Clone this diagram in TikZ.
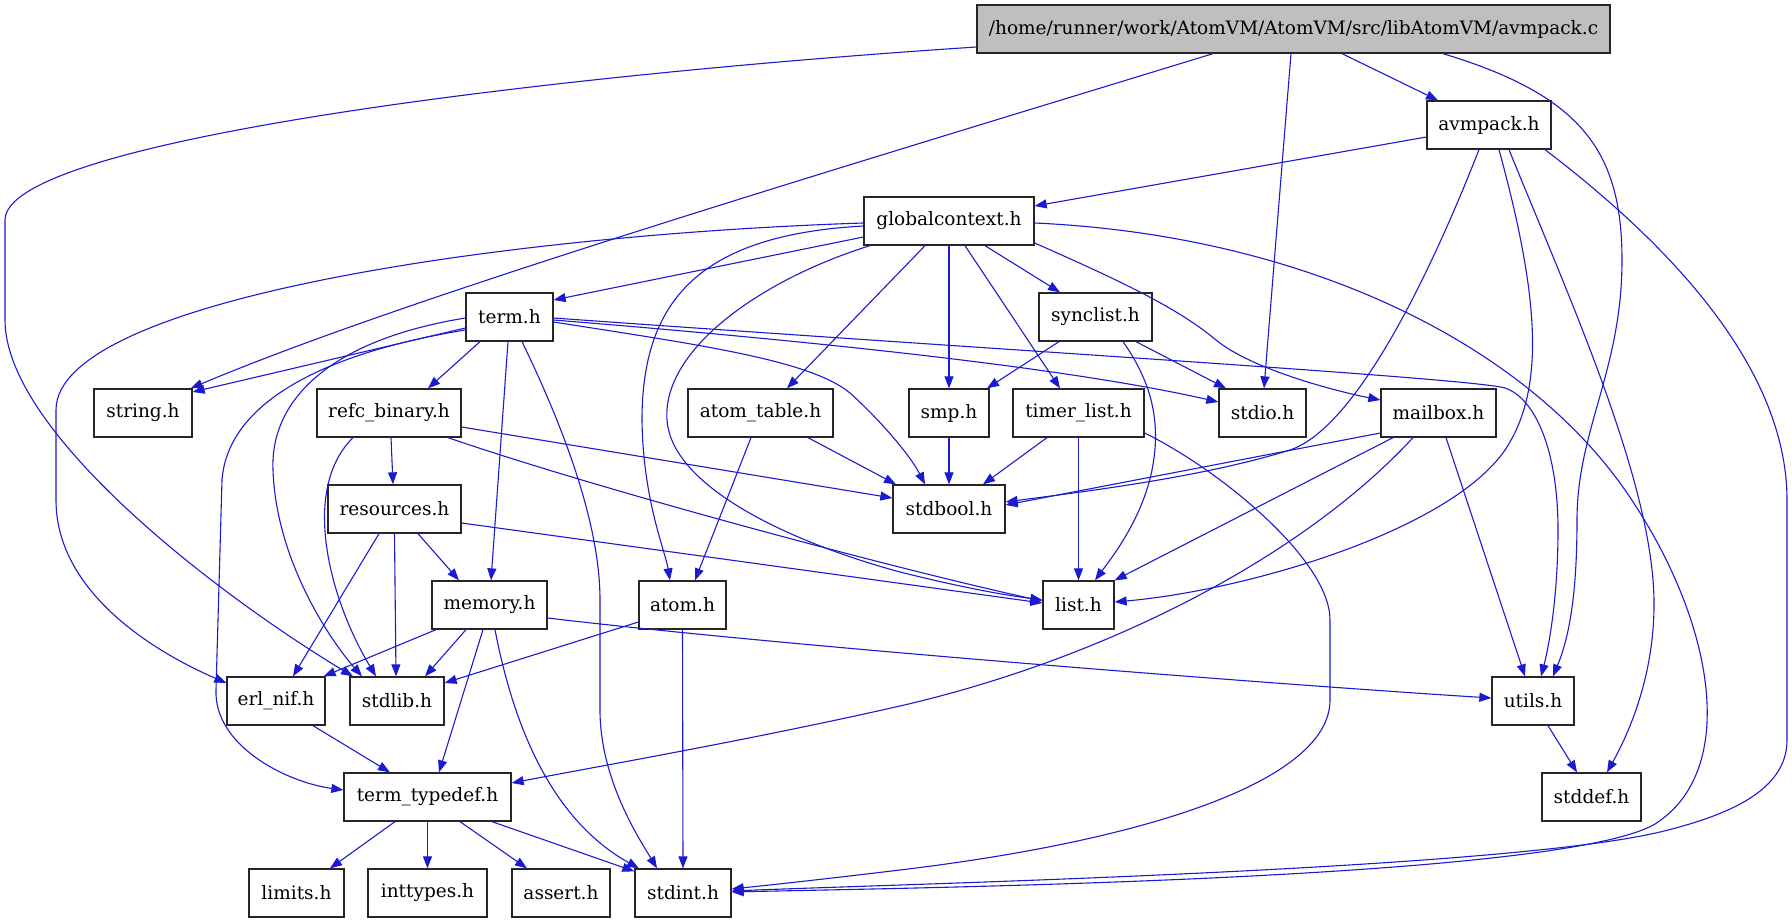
\documentclass[tikz,border=0pt]{standalone}
\usepackage{fontspec}
\setmainfont{DejaVu Serif}
\usetikzlibrary{arrows.meta}
\definecolor{edgeblue}{RGB}{26,26,208}
\definecolor{rootfill}{RGB}{191,191,191}
\tikzset{
  hdr/.style={draw=black!85, line width=1.3pt, fill=white, minimum height=48pt, inner sep=0pt, font=\fontsize{18.5}{22}\selectfont},
  root/.style={hdr, fill=rootfill},
  dep/.style={draw=edgeblue, line width=1.1pt, -{Triangle[length=12pt,width=9pt]}},
}
\begin{document}
\begin{tikzpicture}[x=1pt,y=-1pt]
\useasboundingbox (0,0) rectangle (1792,923);
% nodes
\node[root, minimum width=633pt] (avmpackc) at (1293.5,29) {/home/runner/work/AtomVM/AtomVM/src/libAtomVM/avmpack.c};
\node[hdr, minimum width=124pt] (avmpackh) at (1489,125) {avmpack.h};
\node[hdr, minimum width=170pt] (gc) at (949,221) {globalcontext.h};
\node[hdr, minimum width=87pt] (term) at (509.5,317) {term.h};
\node[hdr, minimum width=113pt] (synclist) at (1095.5,317) {synclist.h};
\node[hdr, minimum width=98pt] (string) at (143,413) {string.h};
\node[hdr, minimum width=144pt] (refc) at (389,413) {refc\_binary.h};
\node[hdr, minimum width=145pt] (atomtable) at (760.5,413) {atom\_table.h};
\node[hdr, minimum width=80pt] (smp) at (949,413) {smp.h};
\node[hdr, minimum width=131pt] (timerlist) at (1078.5,413) {timer\_list.h};
\node[hdr, minimum width=87pt] (stdio) at (1262.5,413) {stdio.h};
\node[hdr, minimum width=115pt] (mailbox) at (1438.5,413) {mailbox.h};
\node[hdr, minimum width=133pt] (resources) at (394.5,509) {resources.h};
\node[hdr, minimum width=112pt] (stdbool) at (949,509) {stdbool.h};
\node[hdr, minimum width=115pt] (memory) at (489.5,605) {memory.h};
\node[hdr, minimum width=87pt] (atom) at (682.5,605) {atom.h};
\node[hdr, minimum width=71pt] (list) at (1078.5,605) {list.h};
\node[hdr, minimum width=98pt] (erlnif) at (276,701) {erl\_nif.h};
\node[hdr, minimum width=94pt] (stdlib) at (397,701) {stdlib.h};
\node[hdr, minimum width=82pt] (utils) at (1533,701) {utils.h};
\node[hdr, minimum width=167pt] (termtypedef) at (427.5,797) {term\_typedef.h};
\node[hdr, minimum width=99pt] (stddef) at (1591.5,797) {stddef.h};
\node[hdr, minimum width=95pt] (limits) at (296.5,893) {limits.h};
\node[hdr, minimum width=119pt] (inttypes) at (427.5,893) {inttypes.h};
\node[hdr, minimum width=98pt] (assert) at (561,893) {assert.h};
\node[hdr, minimum width=96pt] (stdint) at (683,893) {stdint.h};
% avmpack.c
\draw[dep] ([yshift=-18pt]avmpackc.west) .. controls (550,75) and (5,140) .. (5,220) -- (5,320) .. controls (5,430) and (210,590) .. ([xshift=-44pt]stdlib.north);
\draw[dep] ([xshift=-80.5pt]avmpackc.south) .. controls (800,180) and (400,300) .. ([xshift=-2pt]string.north east);
\draw[dep] ([xshift=-2.5pt]avmpackc.south) -- ([xshift=1.5pt]stdio.north);
\draw[dep] ([xshift=48.5pt]avmpackc.south) -- ([xshift=-51pt]avmpackh.north);
\draw[dep] ([xshift=149.5pt]avmpackc.south) .. controls (1580,95) and (1622,150) .. (1622,260) .. controls (1622,370) and (1577,430) .. (1577,520) .. controls (1577,600) and (1568,640) .. ([xshift=20pt]utils.north);
% avmpack.h
\draw[dep] ([yshift=-12pt]avmpackh.west) -- ([yshift=15pt]gc.east);
\draw[dep] ([xshift=-10pt]avmpackh.south) .. controls (1420,300) and (1350,430) .. (1290,450) .. controls (1200,478) and (1080,492) .. ([yshift=7pt]stdbool.east);
\draw[dep] ([xshift=10pt]avmpackh.south) .. controls (1540,300) and (1545,390) .. (1505,450) .. controls (1450,530) and (1250,590) .. ([yshift=3pt]list.east);
\draw[dep] ([xshift=20pt]avmpackh.south) .. controls (1570,300) and (1652,480) .. (1654,600) .. controls (1655,680) and (1625,740) .. ([xshift=15.5pt]stddef.north);
\draw[dep] ([xshift=56pt]avmpackh.south) .. controls (1690,260) and (1787,380) .. (1787,500) -- (1787,740) .. controls (1787,790) and (1730,815) .. (1660,832) .. controls (1500,870) and (900,884) .. ([yshift=2pt]stdint.east);
% globalcontext.h
\draw[dep] ([yshift=-16pt]gc.west) -- ([yshift=17pt]term.east);
\draw[dep] ([yshift=-2pt]gc.west) .. controls (500,235) and (56,300) .. (56,410) -- (56,500) .. controls (56,590) and (150,650) .. ([yshift=18pt]erlnif.west);
\draw[dep] ([yshift=-5pt]gc.west) .. controls (700,235) and (642,300) .. (642,420) .. controls (643,500) and (665,550) .. ([xshift=-12.5pt]atom.north);
\draw[dep] ([xshift=-79pt]gc.south) .. controls (760,280) and (662,350) .. (667,420) .. controls (672,490) and (800,545) .. (900,572) .. controls (980,592) and (1020,597) .. ([yshift=5pt]list.west);
\draw[dep] ([xshift=-24pt]gc.south) -- ([xshift=26.5pt]atomtable.north);
\draw[dep] (gc.south) -- (smp.north);
\draw[dep] ([xshift=16pt]gc.south) -- ([xshift=-18.5pt]timerlist.north);
\draw[dep] ([xshift=36pt]gc.south) -- ([xshift=-35.5pt]synclist.north);
\draw[dep] ([yshift=-22pt]gc.east) .. controls (1130,285) and (1180,310) .. (1216,340) .. controls (1250,368) and (1330,390) .. ([yshift=13pt]mailbox.west);
\draw[dep] ([yshift=-2pt]gc.east) .. controls (1300,235) and (1520,340) .. (1625,490) .. controls (1715,620) and (1740,770) .. (1655,824) .. controls (1560,880) and (900,888) .. ([yshift=1pt]stdint.east);
% term.h
\draw[dep] ([yshift=-5pt]term.east) .. controls (700,345) and (810,360) .. (850,393) .. controls (880,420) and (910,455) .. ([xshift=-24pt]stdbool.north);
\draw[dep] ([yshift=-3pt]term.east) .. controls (900,348) and (1100,375) .. ([yshift=11pt]stdio.west);
\draw[dep] ([yshift=-1pt]term.east) .. controls (1000,350) and (1470,378) .. (1505,388) .. controls (1535,398) and (1558,450) .. (1558,530) .. controls (1558,600) and (1548,650) .. ([xshift=8pt]utils.north);
\draw[dep] ([yshift=-11pt]term.west) -- ([yshift=21pt]string.east);
\draw[dep] ([yshift=-1pt]term.west) .. controls (330,340) and (270,400) .. (273,470) .. controls (276,560) and (330,640) .. ([xshift=-35pt]stdlib.north);
\draw[dep] ([yshift=-13pt]term.west) .. controls (330,352) and (228,400) .. (222,480) -- (216,690) .. controls (214,745) and (285,782) .. ([yshift=7pt]termtypedef.west);
\draw[dep] ([xshift=-29.5pt]term.south) -- ([xshift=39pt]refc.north);
\draw[dep] ([xshift=-1.5pt]term.south) -- ([xshift=1.5pt]memory.north);
\draw[dep] ([xshift=12.5pt]term.south) .. controls (560,420) and (600,520) .. (600,600) -- (600,710) .. controls (600,780) and (640,840) .. ([xshift=-26pt]stdint.north);
% refc_binary.h
\draw[dep] ([xshift=-36pt]refc.south) .. controls (300,490) and (330,600) .. ([xshift=-21pt]stdlib.north);
\draw[dep] ([xshift=2pt]refc.south) -- ([xshift=-1.5pt]resources.north);
\draw[dep] ([xshift=59pt]refc.south) .. controls (600,490) and (900,570) .. ([yshift=4pt]list.west);
\draw[dep] ([yshift=-14pt]refc.east) -- ([yshift=11pt]stdbool.west);
% resources.h
\draw[dep] ([xshift=23.5pt]resources.south) -- ([xshift=-30.5pt]memory.north);
\draw[dep] ([xshift=-15.5pt]resources.south) -- ([xshift=17pt]erlnif.north);
\draw[dep] (resources.south) -- ([xshift=-1pt]stdlib.north);
\draw[dep] ([yshift=-14pt]resources.east) -- ([yshift=2pt]list.west);
% memory.h
\draw[dep] ([xshift=-53.5pt]memory.south) -- ([xshift=-2pt]erlnif.north east);
\draw[dep] ([xshift=-23.5pt]memory.south) -- ([xshift=28pt]stdlib.north);
\draw[dep] ([xshift=-6.5pt]memory.south) -- ([xshift=11.5pt]termtypedef.north);
\draw[dep] ([xshift=5.5pt]memory.south) .. controls (520,760) and (570,830) .. ([xshift=-44pt]stdint.north);
\draw[dep] ([yshift=-13pt]memory.east) .. controls (800,648) and (1300,686) .. ([yshift=3pt]utils.west);
% atom.h, atom_table.h
\draw[dep] ([yshift=-17pt]atom.west) -- ([yshift=18pt]stdlib.east);
\draw[dep] (atom.south) -- (stdint.north);
\draw[dep] ([xshift=-9.5pt]atomtable.south) -- ([xshift=12.5pt]atom.north);
\draw[dep] ([xshift=47.5pt]atomtable.south) -- ([xshift=-53pt]stdbool.north);
% smp.h, timer_list.h, synclist.h
\draw[dep] (smp.south) -- (stdbool.north);
\draw[dep] ([xshift=-31.5pt]timerlist.south) -- ([xshift=34pt]stdbool.north);
\draw[dep] (timerlist.south) -- (list.north);
\draw[dep] ([yshift=-20pt]timerlist.east) .. controls (1220,470) and (1330,560) .. (1330,620) -- (1330,700) .. controls (1330,780) and (1150,840) .. (900,870) .. controls (800,882) and (760,886) .. ([yshift=4pt]stdint.east);
\draw[dep] ([xshift=-36.5pt]synclist.south) -- ([xshift=38pt]smp.north);
\draw[dep] ([xshift=40.5pt]synclist.south) -- ([xshift=-36.5pt]stdio.north);
\draw[dep] ([xshift=27.5pt]synclist.south) .. controls (1150,380) and (1162,420) .. (1152,470) .. controls (1142,520) and (1110,560) .. ([xshift=16.5pt]list.north);
% mailbox.h
\draw[dep] ([yshift=-20pt]mailbox.west) -- ([yshift=4pt]stdbool.east);
\draw[dep] ([xshift=-45.5pt]mailbox.south) -- (list.north east);
\draw[dep] ([xshift=-25.5pt]mailbox.south) .. controls (1300,560) and (1100,660) .. (900,706) .. controls (750,740) and (600,766) .. ([yshift=14pt]termtypedef.east);
\draw[dep] ([xshift=7.5pt]mailbox.south) -- ([xshift=-8pt]utils.north);
% lower
\draw[dep] ([xshift=37pt]erlnif.south) -- ([xshift=-37.5pt]termtypedef.north);
\draw[dep] ([xshift=-32.5pt]termtypedef.south) -- ([xshift=33.5pt]limits.north);
\draw[dep] (termtypedef.south) -- (inttypes.north);
\draw[dep] ([xshift=32.5pt]termtypedef.south) -- ([xshift=-34pt]assert.north);
\draw[dep] ([xshift=64.5pt]termtypedef.south) -- ([yshift=-3pt]stdint.north west);
\draw[dep] ([xshift=15pt]utils.south) -- ([xshift=-14.5pt]stddef.north);
\end{tikzpicture}
\end{document}
